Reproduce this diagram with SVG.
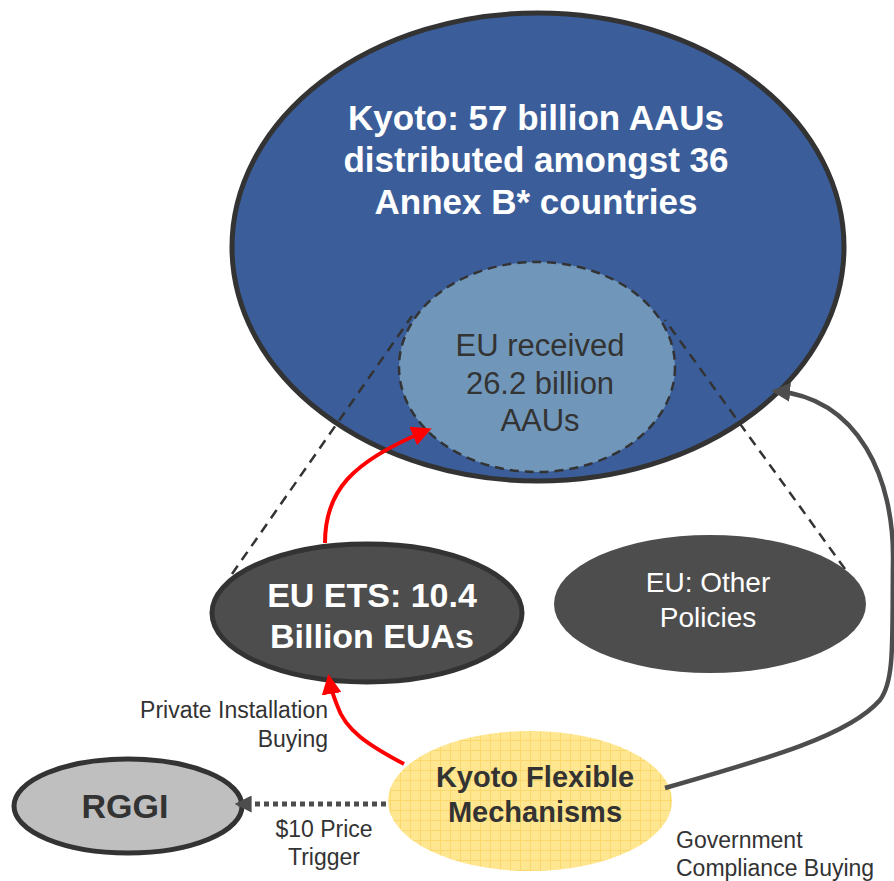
<svg xmlns="http://www.w3.org/2000/svg" width="894" height="881" viewBox="0 0 894 881">
<defs>
<style>
.t{font-family:"Liberation Sans",Arial,sans-serif;text-anchor:middle}
.b{font-weight:bold}
.lbl{font-family:"Liberation Sans",Arial,sans-serif;font-size:23px;fill:#333}
.dash{stroke:#333;stroke-width:2.5;stroke-dasharray:10 7;fill:none}
</style>
<pattern id="grid" width="10" height="10" patternUnits="userSpaceOnUse">
<rect width="10" height="10" fill="#FFE690"/>
<path d="M0,0.5H10M0.5,0V10" stroke="#F5C842" stroke-width="1" opacity="0.45"/>
</pattern>
<marker id="ar" viewBox="0 0 10 10" refX="8" refY="5" markerWidth="5" markerHeight="5" orient="auto" markerUnits="strokeWidth">
<path d="M0,0L10,5L0,10z" fill="#FF0000"/>
</marker>
<marker id="ag" viewBox="0 0 10 10" refX="8" refY="5" markerWidth="4.2" markerHeight="4.2" orient="auto" markerUnits="strokeWidth">
<path d="M0,0L10,5L0,10z" fill="#4D4D4D"/>
</marker>
<marker id="ad" viewBox="0 0 10 10" refX="8" refY="5" markerWidth="3.4" markerHeight="3.4" orient="auto" markerUnits="strokeWidth">
<path d="M0,0L10,5L0,10z" fill="#4D4D4D"/>
</marker>
</defs>
<rect width="894" height="881" fill="#fff"/>
<g id="kyoto">
<ellipse cx="538" cy="247" rx="306" ry="234" fill="#3B5E9B" stroke="#333" stroke-width="5"/>
<text class="t b" font-size="35" fill="#fff"><tspan x="536" y="130">Kyoto: 57 billion AAUs</tspan><tspan x="536" y="172">distributed amongst 36</tspan><tspan x="536" y="214">Annex B* countries</tspan></text>
</g>
<g id="scope-lines">
<path class="dash" d="M232,574L412,316"/>
<path class="dash" d="M845,569L665,320"/>
</g>
<g id="eu-received">
<ellipse cx="537" cy="367" rx="138" ry="105" fill="#7097BA" stroke="#333" stroke-width="2.5" stroke-dasharray="9 6"/>
<text class="t" font-size="31" fill="#333"><tspan x="540" y="356">EU received</tspan><tspan x="540" y="394">26.2 billion</tspan><tspan x="540" y="431">AAUs</tspan></text>
</g>
<g id="eu-ets">
<ellipse cx="367" cy="613" rx="155" ry="69" fill="#4D4D4D" stroke="#333" stroke-width="5"/>
<text class="t b" font-size="34" fill="#fff"><tspan x="372" y="607">EU ETS: 10.4</tspan><tspan x="372" y="648">Billion EUAs</tspan></text>
</g>
<g id="eu-other">
<ellipse cx="710" cy="604" rx="156" ry="69" fill="#4D4D4D"/>
<text class="t" font-size="28" fill="#fff"><tspan x="708" y="592">EU: Other</tspan><tspan x="708" y="627">Policies</tspan></text>
</g>
<g id="rggi">
<ellipse cx="128" cy="806" rx="114" ry="47" fill="#BFBFBF" stroke="#333" stroke-width="5"/>
<text class="t b" font-size="34" fill="#333" x="125" y="818">RGGI</text>
</g>
<g id="kyoto-flex">
<ellipse cx="530" cy="801" rx="142" ry="70" fill="url(#grid)"/>
<text class="t b" font-size="29" fill="#333"><tspan x="535" y="787">Kyoto Flexible</tspan><tspan x="535" y="822">Mechanisms</tspan></text>
</g>
<g id="connectors">
<path d="M404,764C368,745 345,730 337,705C333,695 331,690 329,678" fill="none" stroke="#FF0000" stroke-width="4" marker-end="url(#ar)"/>
<path d="M325,543C325,492 350,462 428,430" fill="none" stroke="#FF0000" stroke-width="4" marker-end="url(#ar)"/>
<path d="M665,788C770,758 850,735 880,700C895,680 892,640 893,560C894,480 860,398 775,391" fill="none" stroke="#4D4D4D" stroke-width="4.5" marker-end="url(#ag)"/>
<path d="M386,804L238,804" fill="none" stroke="#4D4D4D" stroke-width="5" stroke-dasharray="5 4" marker-end="url(#ad)"/>
</g>
<g id="labels">
<text class="lbl" text-anchor="end"><tspan x="328" y="718">Private Installation</tspan><tspan x="328" y="747">Buying</tspan></text>
<text class="lbl" text-anchor="middle"><tspan x="324" y="837">$10 Price</tspan><tspan x="324" y="865">Trigger</tspan></text>
<text class="lbl"><tspan x="676" y="848">Government</tspan><tspan x="676" y="876">Compliance Buying</tspan></text>
</g>
</svg>
